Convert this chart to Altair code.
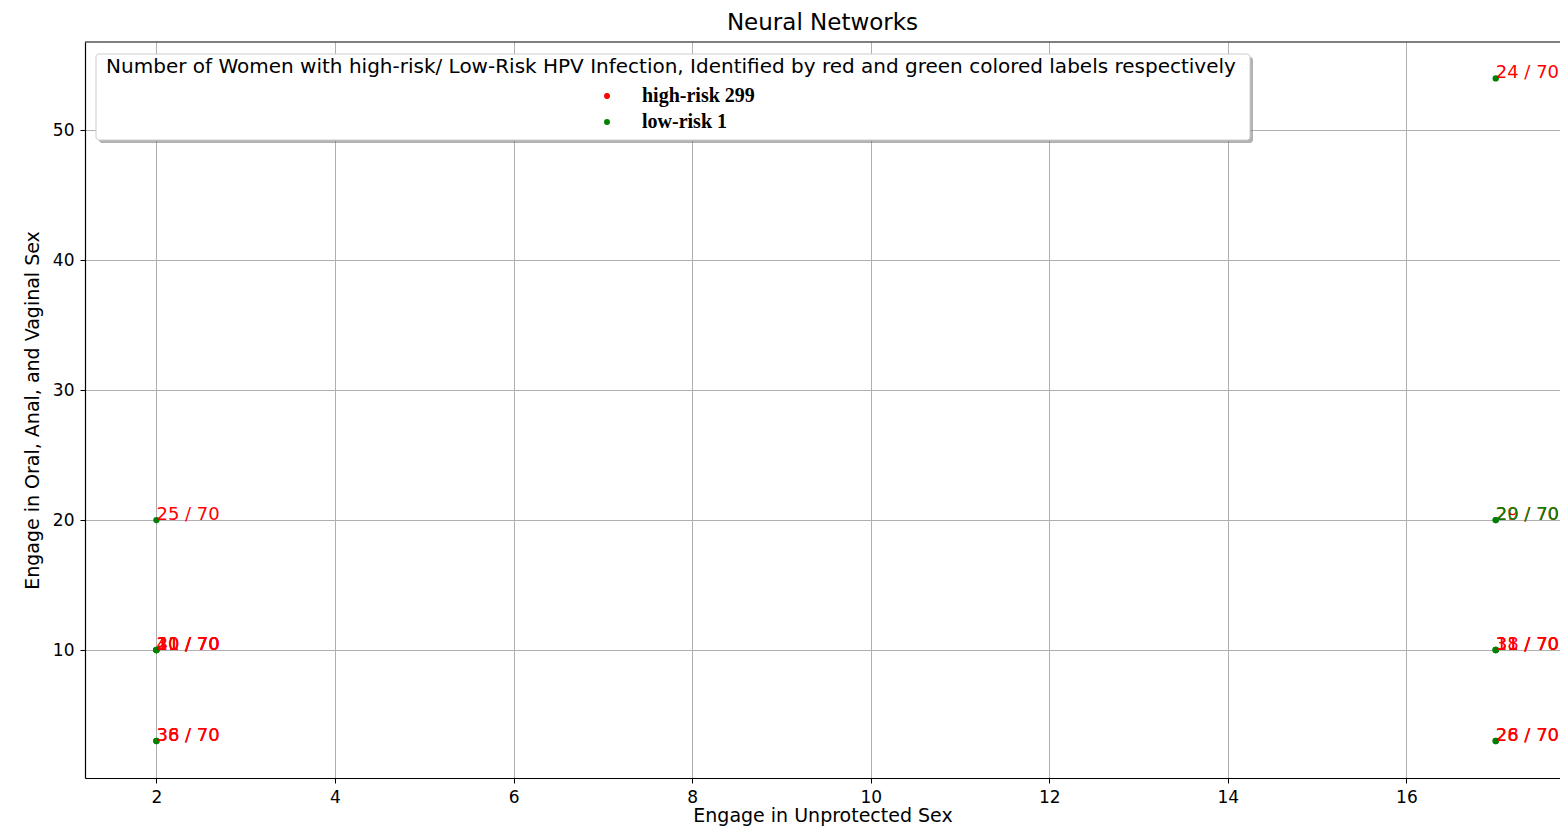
import altair as alt
import pandas as pd

# ---- data ----
point_x = [2, 2, 2, 2, 2, 2, 2, 17, 17, 17, 17, 17, 17, 17, 17]
point_y = [20, 10, 10, 10, 10, 3, 3, 54, 20, 20, 10, 10, 10, 3, 3]
point_label = ["25 / 70", "20 / 70", "31 / 70", "40 / 70", "11 / 70", "36 / 70", "38 / 70",
               "24 / 70", "29 / 70", "20 / 70", "31 / 70", "38 / 70", "11 / 70", "26 / 70", "28 / 70"]
point_risk = ["high-risk 299", "high-risk 299", "high-risk 299", "high-risk 299", "high-risk 299",
              "high-risk 299", "high-risk 299", "high-risk 299", "high-risk 299", "low-risk 1",
              "high-risk 299", "high-risk 299", "high-risk 299", "high-risk 299", "high-risk 299"]
risk_classes = ["high-risk 299", "low-risk 1"]
risk_colors = ["#ff0000", "#008000"]
x_ticks = [2, 4, 6, 8, 10, 12, 14, 16]
y_ticks = [10, 20, 30, 40, 50]
legend_title = ("Number of Women with high-risk/ Low-Risk HPV Infection, "
                "Identified by red and green colored labels respectively")

df = pd.DataFrame({"x": point_x, "y": point_y, "label": point_label, "risk": point_risk})

FONT = "DejaVu Sans"
W, H = 1475, 736

xs = alt.Scale(domain=[1.2, 17.72], nice=False, zero=False)
ys = alt.Scale(domain=[0.15, 56.8], nice=False, zero=False)

x_axis = alt.Axis(values=x_ticks, format="d", title="Engage in Unprotected Sex", grid=True,
                  labelPadding=6, titlePadding=1, titleFontSize=19)
y_axis = alt.Axis(values=y_ticks, format="d", title="Engage in Oral, Anal, and Vaginal Sex", grid=True,
                  labelPadding=6, titlePadding=10, titleFontSize=19)

base = alt.Chart(df)

points = base.mark_circle(size=40, opacity=1, color="#008000").encode(
    x=alt.X("x:Q", scale=xs, axis=x_axis),
    y=alt.Y("y:Q", scale=ys, axis=y_axis),
)

labels = base.mark_text(align="left", baseline="alphabetic", font=FONT, fontSize=18).encode(
    x=alt.X("x:Q", scale=xs),
    y=alt.Y("y:Q", scale=ys),
    text="label:N",
    color=alt.Color(
        "risk:N",
        scale=alt.Scale(domain=risk_classes, range=risk_colors),
        legend=alt.Legend(
            title=None, orient="none", legendX=512, legendY=44,
            symbolType="circle", symbolSize=35, symbolStrokeWidth=0,
            labelFont="Liberation Serif", labelFontWeight="bold", labelFontSize=20,
            labelColor="black", labelOffset=25, rowPadding=6, padding=0,
        ),
    ),
)

one = pd.DataFrame({"a": [0]})
top_rule = alt.Chart(one).mark_rule(color="black", strokeWidth=1.2).encode(
    x=alt.value(0), x2=alt.value(W), y=alt.value(0)
)
shadow = alt.Chart(one).mark_rect(color="#7f7f7f", cornerRadius=3, opacity=0.6).encode(
    x=alt.value(14), x2=alt.value(1168), y=alt.value(15), y2=alt.value(101)
)
box = alt.Chart(one).mark_rect(fill="white", stroke="#cccccc", strokeWidth=1, cornerRadius=3).encode(
    x=alt.value(11), x2=alt.value(1165), y=alt.value(12), y2=alt.value(98)
)
box_title = alt.Chart(one).mark_text(font=FONT, fontSize=20, align="center", baseline="alphabetic",
                                     color="black").encode(
    x=alt.value(586), y=alt.value(31), text=alt.value(legend_title)
)

chart = alt.layer(points, labels, top_rule, shadow, box, box_title).properties(
    width=W, height=H,
    title=alt.Title("Neural Networks", font=FONT, fontSize=23, fontWeight="normal",
                    anchor="middle", offset=6, color="black"),
    autosize=alt.AutoSizeParams(type="none"),
    padding={"left": 77, "top": 34, "right": 0, "bottom": 50},
).configure_view(
    stroke=None
).configure_axis(
    domain=True, domainColor="black", domainWidth=1.2,
    gridColor="#b0b0b0", gridWidth=1, tickColor="black", tickSize=5,
    tickWidth=1, labelFont=FONT, labelFontSize=17, labelColor="black",
    titleFont=FONT, titleFontWeight="normal", titleColor="black",
)

chart.save("out.html", embed_options={"renderer": "svg", "actions": False})
